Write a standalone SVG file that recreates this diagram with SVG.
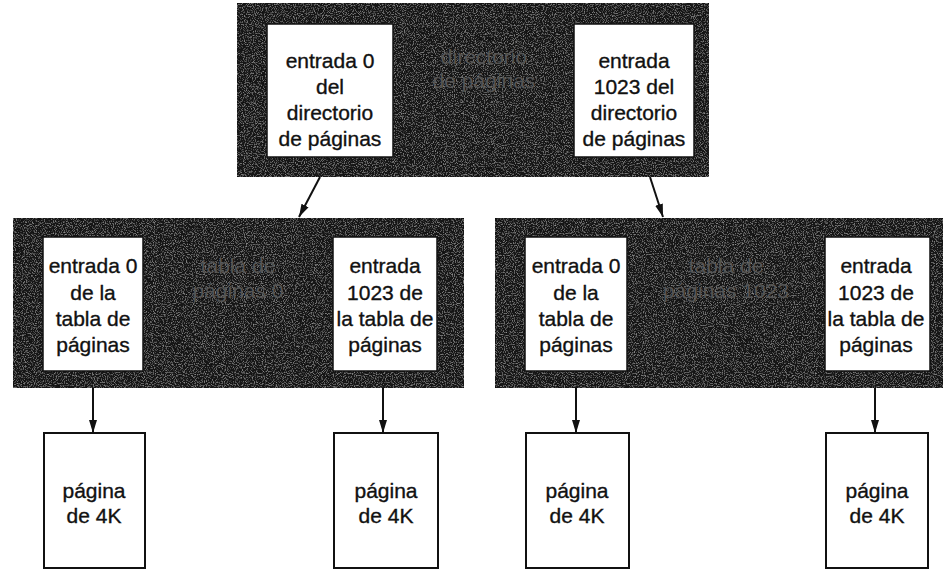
<svg xmlns="http://www.w3.org/2000/svg" width="946" height="570" viewBox="0 0 946 570">
<style>
.dark{fill:#141414;stroke:#111;stroke-width:1}
.white{fill:#fff;stroke:#111;stroke-width:1.5}
.page{fill:#fff;stroke:#111;stroke-width:2}
text{font-family:"Liberation Sans",Arial,sans-serif;font-size:21px;fill:#111;stroke:#111;stroke-width:0.35;text-anchor:middle}
text.faint{fill:#555;stroke:none}
.conn{stroke:#111;stroke-width:2;fill:none;marker-end:url(#ah)}
</style>
<defs>
<marker id="ah" markerUnits="userSpaceOnUse" markerWidth="13" markerHeight="10" viewBox="0 0 13 10" refX="13" refY="5" orient="auto">
<path d="M0,1 L13,5 L0,9 Z" fill="#111"/>
</marker>
<filter id="noise" x="0" y="0" width="100%" height="100%">
<feTurbulence type="fractalNoise" baseFrequency="0.9" numOctaves="2" seed="3" result="n"/>
<feColorMatrix in="n" type="matrix" values="0 0 0 0 0.45  0 0 0 0 0.45  0 0 0 0 0.45  0 0 0 1.6 -0.8" result="m"/>
<feComposite in="m" in2="SourceGraphic" operator="in" result="c"/>
<feMerge><feMergeNode in="SourceGraphic"/><feMergeNode in="c"/></feMerge>
</filter>
</defs>

<g id="directorio">
<rect class="dark" x="237" y="3" width="472" height="174" filter="url(#noise)"/>
<text class="faint" x="484" y="64">directorio</text>
<text class="faint" x="484" y="88">de páginas</text>
<g id="dir-entrada0">
<rect class="white" x="267" y="24" width="126" height="133"/>
<text x="330" y="68">entrada 0</text>
<text x="330" y="94">del</text>
<text x="330" y="120">directorio</text>
<text x="330" y="146">de páginas</text>
</g>
<g id="dir-entrada1023">
<rect class="white" x="574" y="24" width="120" height="133"/>
<text x="634" y="68">entrada</text>
<text x="634" y="94">1023 del</text>
<text x="634" y="120">directorio</text>
<text x="634" y="146">de páginas</text>
</g>
</g>

<g id="tabla0">
<rect class="dark" x="13" y="218" width="451" height="170" filter="url(#noise)"/>
<text class="faint" x="238" y="273">tabla de</text>
<text class="faint" x="238" y="298">páginas 0</text>
<g id="t0-entrada0">
<rect class="white" x="43" y="237" width="100" height="134"/>
<text x="93" y="273">entrada 0</text>
<text x="93" y="300">de la</text>
<text x="93" y="326">tabla de</text>
<text x="93" y="352">páginas</text>
</g>
<g id="t0-entrada1023">
<rect class="white" x="333" y="237" width="104" height="134"/>
<text x="385" y="273">entrada</text>
<text x="385" y="300">1023 de</text>
<text x="385" y="326">la tabla de</text>
<text x="385" y="352">páginas</text>
</g>
</g>

<g id="tabla1023">
<rect class="dark" x="495" y="218" width="448" height="170" filter="url(#noise)"/>
<text class="faint" x="726" y="273">tabla de</text>
<text class="faint" x="726" y="298">páginas 1023</text>
<g id="t1023-entrada0">
<rect class="white" x="525" y="237" width="102" height="134"/>
<text x="576" y="273">entrada 0</text>
<text x="576" y="300">de la</text>
<text x="576" y="326">tabla de</text>
<text x="576" y="352">páginas</text>
</g>
<g id="t1023-entrada1023">
<rect class="white" x="825" y="237" width="105" height="134"/>
<text x="876" y="273">entrada</text>
<text x="876" y="300">1023 de</text>
<text x="876" y="326">la tabla de</text>
<text x="876" y="352">páginas</text>
</g>
</g>

<g id="pagina1">
<rect class="page" x="44" y="433" width="101" height="135"/>
<text x="94" y="498">página</text>
<text x="94" y="523">de 4K</text>
</g>
<g id="pagina2">
<rect class="page" x="334" y="433" width="104" height="135"/>
<text x="386" y="498">página</text>
<text x="386" y="523">de 4K</text>
</g>
<g id="pagina3">
<rect class="page" x="526" y="433" width="103" height="135"/>
<text x="577" y="498">página</text>
<text x="577" y="523">de 4K</text>
</g>
<g id="pagina4">
<rect class="page" x="826" y="433" width="102" height="135"/>
<text x="877" y="498">página</text>
<text x="877" y="523">de 4K</text>
</g>

<g id="connectors">
<line class="conn" x1="320" y1="177" x2="299" y2="217"/>
<line class="conn" x1="650" y1="177" x2="663" y2="217"/>
<line class="conn" x1="93" y1="388" x2="93" y2="433"/>
<line class="conn" x1="383" y1="388" x2="383" y2="433"/>
<line class="conn" x1="576" y1="388" x2="576" y2="433"/>
<line class="conn" x1="875" y1="388" x2="875" y2="433"/>
</g>
</svg>
